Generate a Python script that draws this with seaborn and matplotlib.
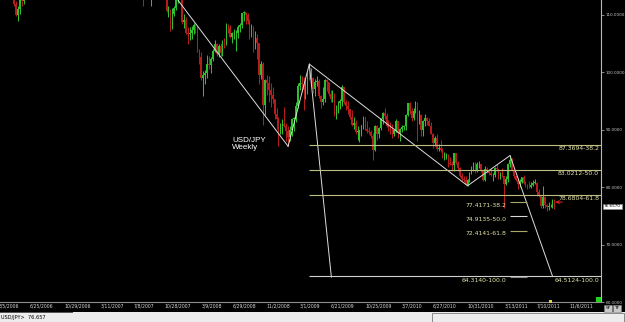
import numpy as np
import pandas as pd
import matplotlib
matplotlib.use("Agg")
import matplotlib.pyplot as plt
import matplotlib.dates as mdates
from matplotlib import font_manager
from matplotlib.patches import Rectangle
import seaborn as sns

# ---------------- data (weekly USD/JPY) ----------------
first_open = 116.5
close_2006 = [118.0, 116.9, 117.3, 117.8, 117.6, 117.9, 116.2, 113.9, 112.0, 110.0, 111.1, 112.9, 112.5, 114.2, 115.2,
              116.0, 114.4, 114.3, 116.4, 116.5, 115.2, 114.2, 115.7, 116.4, 116.5, 116.9, 116.6, 117.3, 116.7, 118.0,
              118.7, 119.5, 119.1, 118.4, 117.0, 118.0, 118.1, 116.2, 115.3, 116.0, 117.9, 118.2, 118.1, 118.8]
high_2006 = [118.4, 118.2, 117.8, 118.1, 118.3, 118.6, 118.5, 116.3, 114.1, 112.4, 111.6, 113.3, 113.0, 114.5, 115.5,
             116.6, 117.0, 115.4, 116.9, 117.5, 117.1, 115.6, 116.0, 116.6, 117.3, 117.4, 117.5, 117.9, 117.7, 118.3,
             119.1, 119.9, 119.8, 119.4, 118.6, 118.4, 118.5, 118.1, 116.4, 116.3, 118.2, 118.4, 118.6, 119.5]
low_2006 = [116.0, 116.3, 115.6, 116.6, 116.8, 117.1, 115.6, 113.4, 111.6, 109.9, 108.9, 110.1, 111.6, 111.9, 113.6,
            114.6, 114.1, 113.7, 114.1, 115.9, 114.8, 113.7, 113.8, 114.9, 115.6, 115.8, 115.4, 116.2, 115.4, 116.4,
            117.5, 118.4, 118.6, 117.9, 116.6, 116.8, 117.4, 115.7, 114.6, 114.4, 115.6, 117.1, 117.5, 117.7]

close_2007 = [120.6, 121.6, 121.3, 120.9, 121.6, 119.5, 121.0, 115.8, 116.6, 116.3, 117.6, 117.8, 117.9, 119.5, 118.2,
              119.0, 120.2, 119.8, 120.6, 121.5, 121.7, 121.6, 122.8, 123.8, 123.2, 123.2, 122.2, 121.5, 118.8, 118.6,
              118.9, 113.9, 116.3, 116.0, 113.2, 114.9, 115.6, 114.9, 117.2, 117.5, 115.6, 114.9, 114.5, 110.7, 110.7,
              108.2, 110.2, 111.2, 112.6, 113.4, 113.9, 108.7]
high_2007 = [120.9, 121.9, 122.2, 121.8, 121.8, 122.0, 121.6, 121.1, 117.5, 118.0, 118.1, 118.3, 118.6, 120.1, 119.6,
             119.6, 120.4, 120.4, 120.9, 121.8, 122.0, 122.2, 123.2, 124.1, 124.0, 123.4, 123.6, 122.6, 122.4, 119.5,
             119.8, 119.0, 117.0, 116.9, 116.5, 115.2, 116.3, 115.8, 117.4, 117.9, 117.6, 115.7, 116.3, 115.1, 111.5,
             111.1, 111.2, 111.6, 113.0, 114.1, 114.7, 114.2]
low_2007 = [118.7, 120.1, 120.3, 119.5, 120.1, 119.2, 119.2, 115.1, 115.2, 115.4, 115.8, 116.4, 117.4, 117.8, 117.8,
            117.9, 118.9, 119.3, 119.6, 120.5, 121.0, 121.0, 121.5, 122.7, 122.3, 122.2, 121.8, 120.7, 118.4, 117.4,
            116.8, 111.6, 113.2, 114.3, 112.9, 111.6, 114.3, 114.6, 114.7, 116.6, 115.4, 113.9, 114.1, 110.5, 109.7,
            107.2, 107.5, 109.9, 110.9, 112.1, 113.1, 108.4]

close_2008 = [109.2, 106.8, 106.6, 106.9, 107.3, 108.2, 107.7, 103.8, 102.6, 99.0, 99.6, 99.9, 101.4, 101.3, 102.4,
              103.8, 105.0, 103.2, 104.6, 103.3, 105.5, 104.9, 108.2, 107.8, 106.1, 106.8, 106.8, 106.9, 107.9, 108.2,
              110.3, 110.5, 110.0, 108.9, 107.9, 107.9, 104.4, 106.0, 105.1, 99.6, 101.5, 94.3, 98.6, 98.1, 96.9,
              96.0, 95.4, 92.8, 91.9, 89.7, 90.6, 91.0]
high_2008 = [110.2, 109.7, 107.9, 107.9, 108.0, 108.6, 108.5, 108.0, 104.0, 103.6, 100.3, 100.4, 103.0, 102.9, 102.6,
             104.1, 105.6, 105.1, 105.0, 105.1, 105.7, 106.0, 108.6, 108.4, 108.3, 107.0, 107.5, 107.3, 108.2, 108.6,
             110.4, 110.7, 110.5, 110.4, 109.3, 108.4, 108.1, 107.2, 106.6, 105.2, 102.0, 101.8, 98.9, 99.5, 99.3,
             98.1, 97.4, 95.4, 93.8, 92.2, 91.2, 91.8]
low_2008 = [107.8, 106.6, 105.0, 105.6, 105.8, 106.6, 106.9, 103.5, 101.4, 98.7, 95.8, 97.9, 99.0, 100.6, 99.9,
            102.0, 103.6, 102.9, 102.6, 102.9, 102.8, 104.2, 104.7, 106.8, 106.0, 105.2, 105.9, 103.8, 106.0, 107.1,
            107.8, 108.9, 108.4, 108.4, 105.9, 106.2, 103.5, 104.1, 102.4, 97.9, 98.8, 90.9, 92.6, 96.0, 94.8,
            93.9, 94.6, 91.9, 90.2, 87.1, 89.2, 89.2]

close_2009 = [90.7, 89.8, 88.8, 89.9, 91.9, 91.9, 94.2, 97.6, 98.2, 98.0, 96.9, 98.2, 99.6, 98.9, 99.0,
              97.1, 98.3, 98.5, 95.9, 94.9, 95.3, 98.6, 98.3, 96.2, 95.3, 96.3, 92.7, 94.1, 94.6, 95.0,
              97.4, 94.8, 94.2, 93.6, 92.3, 90.8, 91.2, 89.6, 89.8, 89.8, 90.8, 92.2, 90.1, 89.8, 89.7,
              88.9, 86.4, 90.7, 89.2, 90.3, 91.8, 92.9]
high_2009 = [93.9, 91.2, 90.7, 90.7, 92.1, 92.3, 94.8, 98.1, 99.6, 99.4, 99.2, 99.0, 100.0, 101.4, 100.7,
             99.2, 98.9, 99.3, 98.8, 96.1, 97.4, 98.9, 98.9, 98.4, 96.9, 96.9, 96.4, 94.3, 95.0, 95.3,
             97.8, 97.5, 95.2, 95.0, 93.7, 93.4, 92.2, 91.7, 90.6, 90.0, 90.9, 92.4, 92.3, 91.6, 90.5,
             90.0, 89.4, 90.9, 90.8, 90.4, 92.0, 93.1]
low_2009 = [90.5, 88.0, 87.1, 88.0, 88.9, 89.8, 91.4, 93.8, 96.9, 96.5, 93.5, 95.4, 96.3, 98.6, 97.9,
            96.4, 95.9, 97.7, 95.6, 93.8, 94.3, 94.8, 96.7, 95.9, 94.8, 94.9, 92.4, 91.9, 93.0, 93.6,
            94.2, 94.5, 93.4, 92.8, 91.9, 90.6, 90.2, 89.2, 88.2, 87.9, 88.9, 90.2, 89.9, 89.4, 89.2,
            88.5, 84.8, 86.3, 88.3, 88.6, 90.0, 91.0]

close_2010 = [92.4, 90.7, 90.3, 90.2, 89.3, 89.9, 91.5, 89.4, 90.2, 90.5, 90.6, 92.5, 94.6, 93.2, 92.0,
              93.3, 94.0, 91.5, 92.6, 90.0, 91.6, 92.0, 91.6, 90.7, 89.3, 87.7, 88.6, 86.6, 86.9, 86.5,
              85.4, 85.6, 85.6, 84.3, 84.1, 83.8, 85.9, 84.2, 83.3, 82.0, 81.4, 81.3, 80.4, 81.2, 82.5,
              83.5, 84.2, 82.9, 84.0, 84.0, 82.8, 81.2]
high_2010 = [93.8, 93.0, 91.7, 91.3, 91.0, 90.2, 91.9, 91.6, 90.3, 90.9, 90.9, 92.7, 94.7, 94.8, 93.8,
             93.8, 95.0, 94.8, 93.5, 92.8, 91.7, 92.7, 92.3, 92.0, 91.3, 89.4, 88.9, 89.2, 87.5, 88.2,
             86.8, 86.2, 85.9, 85.8, 85.2, 84.5, 86.0, 86.0, 84.5, 83.5, 82.5, 81.9, 81.9, 81.5, 82.6,
             83.7, 84.4, 84.4, 84.4, 84.5, 84.1, 82.9]
low_2010 = [91.9, 90.4, 89.8, 89.3, 88.6, 88.9, 89.7, 88.6, 88.1, 89.7, 89.9, 90.0, 92.4, 92.8, 91.6,
            91.7, 92.9, 88.0, 91.0, 89.0, 88.9, 90.7, 90.9, 90.6, 89.2, 86.9, 87.2, 86.3, 86.3, 86.2,
            85.0, 84.7, 84.9, 83.6, 83.9, 82.9, 82.9, 84.1, 82.8, 81.8, 81.1, 80.9, 80.3, 80.2, 80.9,
            82.3, 82.9, 82.5, 82.6, 83.4, 82.6, 81.1]

close_2011 = [83.2, 82.8, 82.5, 82.1, 82.2, 83.4, 83.1, 81.7, 82.4, 81.9, 80.6, 81.5, 84.0, 84.8, 83.0,
              81.9, 81.2, 80.6, 80.9, 81.7, 80.7, 80.4, 80.2, 80.0, 80.4, 80.8, 80.8, 79.2, 78.6, 76.7,
              78.3, 76.9, 76.6, 76.7, 76.8, 77.5, 76.657]
high_2011 = [83.7, 83.6, 83.1, 83.2, 82.4, 83.6, 84.0, 83.2, 82.7, 83.3, 82.0, 82.0, 84.2, 85.5, 85.1,
             83.2, 82.0, 81.6, 81.4, 81.8, 82.2, 81.0, 80.5, 81.0, 80.9, 81.2, 81.5, 80.9, 79.6, 78.7,
             80.2, 78.5, 77.0, 77.5, 77.1, 78.0, 77.9]
low_2011 = [81.0, 82.4, 82.1, 82.0, 81.0, 81.8, 82.8, 81.4, 81.5, 81.8, 76.3, 80.4, 80.9, 83.5, 82.9,
            81.6, 81.1, 79.6, 80.0, 80.8, 80.6, 80.0, 79.7, 79.8, 79.9, 80.2, 80.5, 78.5, 78.3, 76.3,
            76.3, 76.3, 75.9, 76.1, 76.5, 76.3, 76.2]

first_sundays = {2006: "2006-03-05", 2007: "2007-01-07", 2008: "2008-01-06",
                 2009: "2009-01-04", 2010: "2010-01-03", 2011: "2011-01-02"}
years = {2006: (close_2006, high_2006, low_2006), 2007: (close_2007, high_2007, low_2007),
         2008: (close_2008, high_2008, low_2008), 2009: (close_2009, high_2009, low_2009),
         2010: (close_2010, high_2010, low_2010), 2011: (close_2011, high_2011, low_2011)}

# swing points of the hand-drawn trend lines
swing_dates = ["2007-06-17", "2009-01-18", "2009-04-05", "2010-10-31", "2011-04-03", "2011-09-04"]
swing_prices = [124.14, 87.13, 101.44, 80.25, 85.51, 64.5124]
proj_dates = ["2009-04-05", "2009-06-24"]
proj_prices = [101.44, 64.3140]

# Fibonacci levels
ret_levels = [87.3694, 83.0212, 78.6804, 64.5124]
ret_labels = ["87.3694-38.2", "83.0212-50.0", "78.6804-61.8", "64.5124-100.0"]
ext_levels = [77.4171, 74.9135, 72.4141, 64.3140]
ext_labels = ["77.4171-38.2", "74.9135-50.0", "72.4141-61.8", "64.3140-100.0"]

x_tick_labels = ["6/25/2006", "10/29/2006", "3/11/2007", "7/8/2007", "10/28/2007", "3/9/2008", "6/29/2008",
                 "11/2/2008", "3/1/2009", "6/21/2009", "10/25/2009", "3/7/2010", "6/27/2010", "10/31/2010",
                 "3/13/2011", "7/10/2011", "11/6/2011"]
first_label = "3/5/2006"
y_ticks = [60, 70, 80, 90, 100, 110]
last_price = 76.657

# ---------------- build frame ----------------
frames = []
for yr, (c, h, l) in years.items():
    d = pd.date_range(first_sundays[yr], periods=len(c), freq="W-SUN")
    frames.append(pd.DataFrame({"date": d, "close": c, "high": h, "low": l}))
df = pd.concat(frames, ignore_index=True)
df["open"] = np.r_[first_open, df["close"].values[:-1]]
df["x"] = mdates.date2num(df["date"])
df["up"] = df["close"] >= df["open"]

def dnum(s):
    return mdates.date2num(pd.Timestamp(s))

# ---------------- style ----------------
sns.set_style("dark")
plt.rcParams["font.family"] = ["DejaVu Sans"]
avail = {f.name for f in font_manager.fontManager.ttflist}
if "Liberation Sans Narrow" in avail:
    small_font, tick_fs, ytick_fs = "Liberation Sans Narrow", 4.5, 4.0
else:
    small_font, tick_fs, ytick_fs = "DejaVu Sans", 3.3, 3.0
label_font = "Liberation Sans" if "Liberation Sans" in avail else "DejaVu Sans"

W, H = 625, 322
fig = plt.figure(figsize=(W / 100, H / 100), dpi=100, facecolor="black")
ax = fig.add_axes([0, 20 / H, 601 / W, 302 / H])
ax.set_facecolor("black")

GREEN = "#2dbf2d"
RED = "#b51c1c"
cols = np.where(df["up"], GREEN, RED)

# candles
ax.vlines(df["x"], df["low"], df["high"], colors=cols, linewidth=0.75, zorder=2)
body_h = np.maximum(np.abs(df["close"] - df["open"]), 0.08)
ax.bar(df["x"], body_h, bottom=np.minimum(df["open"], df["close"]), width=5.5,
       color=cols, linewidth=0, zorder=2)

xmin, xmax = dnum("2006-03-10"), dnum("2012-02-27")

# trend lines via seaborn
seg_rows = []
for i in range(len(swing_dates) - 1):
    for j in (i, i + 1):
        seg_rows.append({"x": dnum(swing_dates[j]), "price": swing_prices[j], "seg": i})
for j in range(2):
    seg_rows.append({"x": dnum(proj_dates[j]), "price": proj_prices[j], "seg": 99})
seg_df = pd.DataFrame(seg_rows)
sns.lineplot(data=seg_df, x="x", y="price", units="seg", estimator=None, sort=False,
             color="#dedede", linewidth=0.7, ax=ax, legend=False, zorder=3)

# Fibonacci retracement lines (long) and labels on the right
p3 = dnum(swing_dates[2])
ret_colors = ["#bdbd84", "#bdbd84", "#bdbd84", "#d0d0d0"]
for lev, lab, c in zip(ret_levels, ret_labels, ret_colors):
    ax.hlines(lev, p3, xmax, colors=c, linewidth=0.8, zorder=3)
    ax.text(0.997, lev - 0.25, lab, transform=ax.get_yaxis_transform(), ha="right", va="top",
            fontsize=4.4, color="#e4e4a8", zorder=4)

# Fibonacci extension short lines and labels
p5 = dnum(swing_dates[4])
ext_colors = ["#a8a86a", "#d8d8d8", "#a8a86a", "#8a8a8a"]
for lev, lab, c in zip(ext_levels, ext_labels, ext_colors):
    ax.hlines(lev, p5, p5 + 63, colors=c, linewidth=0.8, zorder=3)
    ax.text(p5 - 14, lev - 0.1, lab, ha="right", va="top", fontsize=4.4, color="#e4e4a8", zorder=4)

# chart title text
ax.text(dnum("2008-06-29"), 88.8, "USD/JPY\nWeekly", ha="left", va="top", fontsize=5.8,
        color="white", family=label_font, linespacing=1.0, zorder=4)

# red arrow at last bar
ax.annotate("", xy=(dnum("2011-09-14"), 77.4), xytext=(dnum("2011-10-09"), 77.4),
            arrowprops=dict(arrowstyle="->", color="#e02020", lw=0.8, mutation_scale=5,
                            shrinkA=0, shrinkB=0), zorder=5)

# axes
ax.set_xlim(xmin, xmax)
ax.set_ylim(60.0, 112.61)
ax.set_xlabel("")
ax.set_ylabel("")
ax.grid(False)
ax.set_xticks(mdates.date2num(pd.to_datetime(x_tick_labels, format="%m/%d/%Y")))
ax.set_xticklabels(x_tick_labels, family=small_font, fontsize=tick_fs, color="#d8d8d8")
for t in ax.get_xticklabels():
    t.set_ha("left")
ax.tick_params(axis="x", length=0, pad=1.3)
ax.text(mdates.date2num(pd.to_datetime(first_label, format="%m/%d/%Y")), -0.006, first_label,
        transform=ax.get_xaxis_transform(), ha="left", va="top", family=small_font,
        fontsize=tick_fs, color="#d8d8d8", clip_on=False)

ax.yaxis.tick_right()
ax.set_yticks(y_ticks)
ax.set_yticklabels([f"{v:.4f}" for v in y_ticks], family=small_font, fontsize=ytick_fs, color="#c8c8c8")
ax.tick_params(axis="y", length=2.2, width=0.6, pad=1.2, color="#a0a0a0", right=True, left=False)

for s in ("top", "left"):
    ax.spines[s].set_visible(False)
ax.spines["right"].set_color("#b8b8b8")
ax.spines["right"].set_linewidth(0.8)
ax.spines["bottom"].set_color("#8c8c8c")
ax.spines["bottom"].set_linewidth(0.8)

# last price tag
ax.text(1.005, last_price, f"{last_price:.4f}", transform=ax.get_yaxis_transform(), ha="left", va="center",
        fontsize=ytick_fs, family=small_font, color="black", clip_on=False,
        bbox=dict(boxstyle="square,pad=0.18", fc="white", ec="#909090", lw=0.4))

# ---------------- window decorations ----------------
fig.add_artist(Rectangle((0, 0), 1, 10 / H, transform=fig.transFigure, facecolor="#ececec",
                         edgecolor="none", zorder=0))
fig.add_artist(Rectangle((432 / W, 0), 192 / W, 9.5 / H, transform=fig.transFigure, facecolor="none",
                         edgecolor="#7a7a7a", linewidth=0.6))
fig.add_artist(Rectangle((0, 9.3 / H), 73 / W, 0.7 / H, transform=fig.transFigure, facecolor="#555555",
                         edgecolor="none"))
fig.text(1 / W, 5 / H, f"USD/JPY>  {last_price}", fontsize=3.6, color="black", va="center", ha="left",
         family=small_font)
for i, lab in enumerate(["SF", "TF"]):
    x0 = (604 + i * 9) / W
    fig.add_artist(Rectangle((x0, 10.5 / H), 8 / W, 7 / H, transform=fig.transFigure,
                             facecolor="#c8c8c8", edgecolor="#808080", linewidth=0.4))
    fig.text(x0 + 4 / W, 14 / H, lab, fontsize=3.2, color="black", ha="center", va="center",
             family=small_font)
fig.add_artist(Rectangle((596 / W, 20 / H), 4.5 / W, 5 / H, transform=fig.transFigure,
                         facecolor="#22d022", edgecolor="none"))
fig.add_artist(Rectangle((548.5 / W, 19 / H), 3 / W, 3.5 / H, transform=fig.transFigure,
                         facecolor="#e6d24a", edgecolor="none"))

fig.savefig("out.png", dpi=100, facecolor="black")
